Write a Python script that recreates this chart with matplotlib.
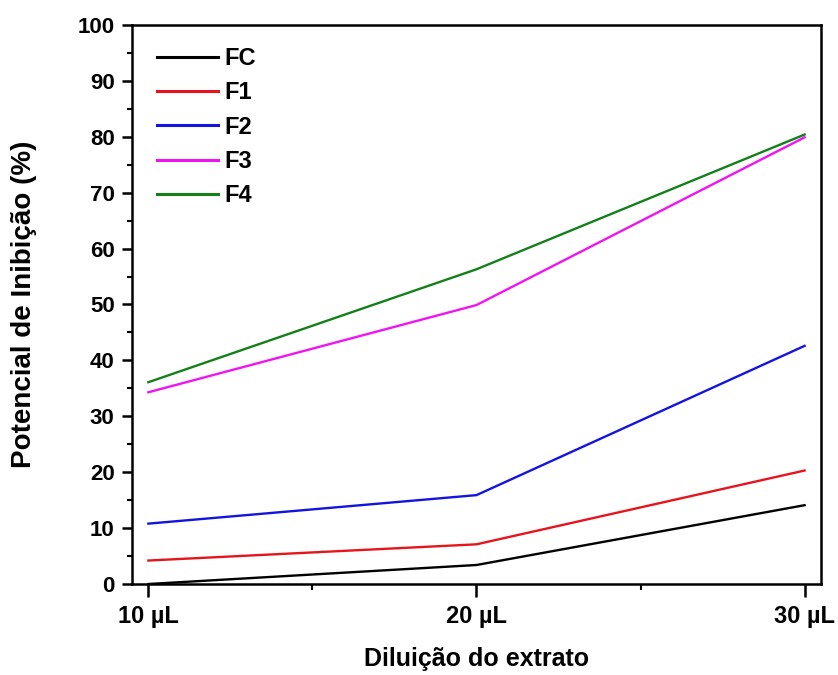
import matplotlib
matplotlib.use("Agg")
import matplotlib.pyplot as plt
from matplotlib.ticker import MultipleLocator

# Extract dilution (µL) and inhibition potential (%) for each fraction
dilution = [10, 20, 30]
tick_labels = ["10 µL", "20 µL", "30 µL"]
series_names = ["FC", "F1", "F2", "F3", "F4"]
fc = [0.0, 3.4, 14.1]
f1 = [4.2, 7.1, 20.3]
f2 = [10.8, 15.9, 42.6]
f3 = [34.3, 49.9, 79.9]
f4 = [36.1, 56.3, 80.4]
colors = ["#000000", "#E8141B", "#1414E0", "#F014F0", "#13801A"]

plt.rcParams["font.family"] = ["Liberation Sans", "DejaVu Sans"]
plt.rcParams["font.weight"] = "bold"

fig = plt.figure(figsize=(8.38, 6.75), dpi=100)
ax = fig.add_axes([0.1575, 0.1348, 0.8222, 0.8282])

for name, vals, c in zip(series_names, [fc, f1, f2, f3, f4], colors):
    ax.plot(dilution, vals, color=c, lw=1.7, label=name)

ax.set_xlim(9.5, 30.5)
ax.set_ylim(0, 100)
ax.set_xticks(dilution)
ax.set_xticklabels(tick_labels)
ax.xaxis.set_minor_locator(MultipleLocator(5))
ax.yaxis.set_major_locator(MultipleLocator(10))
ax.yaxis.set_minor_locator(MultipleLocator(5))

for s in ax.spines.values():
    s.set_linewidth(1.8)
ax.tick_params(axis="both", which="major", direction="out", width=1.8)
ax.tick_params(axis="both", which="minor", direction="out", width=1.5)
ax.tick_params(axis="y", which="major", length=7.5, labelsize=16, pad=5)
ax.tick_params(axis="y", which="minor", length=3.5)
ax.tick_params(axis="x", which="major", length=9, labelsize=17, pad=6)
ax.tick_params(axis="x", which="minor", length=4.5)
for lab in ax.get_xticklabels() + ax.get_yticklabels():
    lab.set_fontweight("bold")

ax.set_xlabel("Diluição do extrato", fontsize=18, fontweight="bold", labelpad=14)
ax.set_ylabel("Potencial de Inibição (%)", fontsize=20, fontweight="bold", labelpad=29)

leg = ax.legend(loc="upper left", frameon=False, fontsize=17,
                handlelength=2.55, handletextpad=0.3, labelspacing=0.48,
                borderaxespad=0.3, bbox_to_anchor=(0.013, 0.99))
for t in leg.get_texts():
    t.set_fontweight("bold")
for h in leg.get_lines():
    h.set_linewidth(2.2)

fig.savefig("out.png", dpi=100, facecolor="white")
